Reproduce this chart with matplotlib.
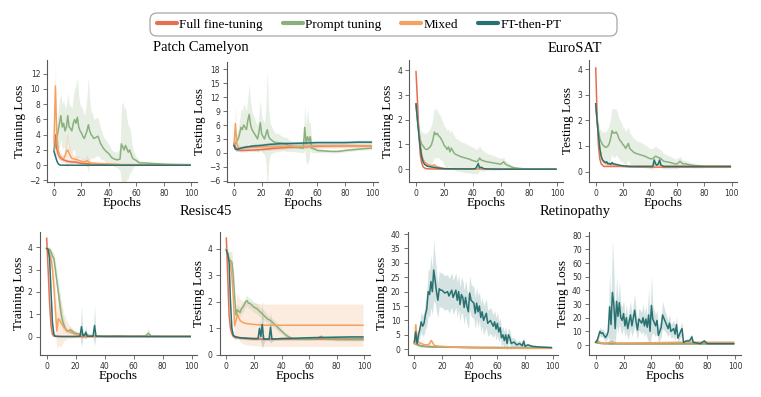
import numpy as np
import matplotlib
matplotlib.use("Agg")
import matplotlib.pyplot as plt
from matplotlib.patches import FancyBboxPatch
from matplotlib.lines import Line2D

C_FT, C_PT, C_MX, C_FP = "#E76F51", "#8AB17D", "#F4A261", "#287271"
methods = ["Full fine-tuning", "Prompt tuning", "Mixed", "FT-then-PT"]
colors = [C_FT, C_PT, C_MX, C_FP]
titles = ["Patch Camelyon", "EuroSAT", "Resisc45", "Retinopathy"]

# ---------------- Patch Camelyon, training ----------------
pc_tr_ft_x = [0,1,2,3,4,5,7,10,13,16,20,25,30,40,50,60,80,99]
pc_tr_ft_y = [2.0,4.0,2.2,1.5,1.1,0.9,0.7,0.5,0.45,0.4,0.25,0.2,0.15,0.1,0.05,0.03,0.02,0.02]
pc_tr_ft_sd = [0.5,1.5,1.0,0.6,0.4,0.3,0.2,0.2,0.2,0.2,0.1,0.1,0.05,0.05,0.03,0.02,0.01,0.01]
pc_tr_pt_x = [0,1,2,3,4,5,6,7,8,9,10,11,12,13,14,15,16,17,18,19,20,21,22,23,24,25,26,27,28,29,30,
              32,34,36,38,40,42,44,46,48,
              49,50,51,52,53,54,55,56,57,58,
              60,62,65,70,80,90,99]
pc_tr_pt_y = [2.0,2.5,3.5,4.5,5.5,6.5,5.0,5.5,4.5,5.0,6.5,5.0,4.8,4.5,5.5,6.0,5.5,6.3,5.0,4.5,4.2,3.8,3.5,4.0,4.5,5.3,4.5,4.0,3.8,3.5,3.6,
              3.8,2.8,2.2,1.8,1.5,1.0,0.8,0.7,0.8,
              2.8,2.4,2.0,2.6,2.2,1.7,2.0,1.5,1.0,0.8,
              0.6,0.3,0.3,0.25,0.15,0.1,0.08]
pc_tr_pt_sd = [0.8,1.5,2.0,2.5,3.0,3.0,3.0,3.0,3.0,3.0,3.0,3.0,3.0,3.0,3.5,4.0,5.0,5.3,4.0,3.5,3.5,3.5,3.0,3.5,4.5,6.3,4.0,3.0,3.0,2.5,2.5,
               2.5,2.0,1.5,1.5,1.2,1.0,1.0,1.0,1.5,
               5.0,6.0,5.5,5.0,4.0,3.5,3.0,2.5,1.5,1.0,
               0.5,0.3,0.2,0.15,0.1,0.05,0.05]
pc_tr_mx_x = [0,1,2,3,4,5,6,7,8,9,10,11,12,13,15,17,20,22,24,26,30,35,40,50,60,80,99]
pc_tr_mx_y = [3.0,10.4,4.0,2.0,1.3,1.1,0.9,0.9,1.2,1.8,2.0,1.6,1.2,0.9,0.8,0.7,0.5,0.4,0.6,0.3,0.25,0.2,0.15,0.1,0.08,0.05,0.05]
pc_tr_mx_sd = [1.0,2.8,1.5,0.8,0.6,0.5,0.5,0.5,1.0,2.0,2.2,1.5,1.0,0.7,0.5,0.5,0.4,0.4,0.8,0.3,0.2,0.2,0.15,0.1,0.05,0.03,0.03]
pc_tr_fp_x = [0,1,2,3,4,5,10,20,50,99]
pc_tr_fp_y = [1.8,1.2,0.6,0.2,0.05,0.01,0.0,0.0,0.0,0.0]
pc_tr_fp_sd = [0.1,0.1,0.1,0.05,0.02,0.01,0.0,0.0,0.0,0.0]

# ---------------- Patch Camelyon, testing ----------------
pc_te_ft_x = [0,1,2,3,5,8,10,15,20,25,30,35,40,50,60,70,80,90,99]
pc_te_ft_y = [2.0,1.2,0.8,0.6,0.5,0.5,0.55,0.6,0.7,0.85,1.0,1.1,1.2,1.3,1.4,1.45,1.5,1.5,1.5]
pc_te_ft_sd = [0.5,0.4,0.3,0.3,0.3,0.3,0.3,0.3,0.3,0.3,0.3,0.3,0.3,0.3,0.3,0.3,0.3,0.3,0.3]
pc_te_pt_x = [0,1,2,3,4,5,6,7,8,9,10,11,12,13,14,15,16,17,18,19,20,21,22,23,24,25,26,27,28,
              30,32,35,38,40,45,50,
              51,52,53,54,55,56,58,
              60,65,70,75,80,90,99]
pc_te_pt_y = [1.5,2.0,2.5,3.0,4.0,5.5,5.0,6.0,5.5,5.0,7.0,8.3,6.0,5.0,4.5,4.0,3.5,3.0,4.5,6.5,4.0,3.5,3.0,4.0,5.0,3.5,3.0,2.8,2.5,
              2.2,2.2,2.0,1.8,1.5,1.2,1.0,
              5.5,2.0,3.5,2.5,3.5,1.0,0.8,
              0.5,0.4,0.3,0.3,0.5,0.8,1.0]
pc_te_pt_sd = [0.5,1.0,1.5,2.0,3.0,4.0,4.0,4.5,4.5,4.0,5.0,6.5,5.0,4.0,3.5,3.5,3.0,3.0,4.0,5.0,4.0,3.5,3.5,6.0,13.0,6.0,3.5,3.0,2.5,
               2.0,2.0,1.5,1.5,1.2,1.0,1.0,
               5.0,4.0,6.0,4.0,3.0,1.0,0.8,
               0.5,0.4,0.3,0.3,0.3,0.3,0.3]
pc_te_mx_x = [0,1,2,3,4,5,7,10,15,20,30,40,50,60,80,99]
pc_te_mx_y = [1.5,6.3,2.0,1.2,1.0,1.0,1.1,1.2,1.2,1.3,1.3,1.4,1.4,1.5,1.5,1.5]
pc_te_mx_sd = [0.5,4.2,1.5,0.8,0.6,0.5,0.5,0.5,0.5,0.5,0.5,0.5,0.5,0.5,0.5,0.5]
pc_te_fp_x = [0,1,2,3,5,8,10,15,20,25,30,35,40,50,60,70,80,90,99]
pc_te_fp_y = [1.6,0.8,0.7,0.8,1.0,1.2,1.3,1.5,1.6,1.8,1.9,2.0,2.0,2.1,2.2,2.2,2.2,2.3,2.3]
pc_te_fp_sd = [0.4,0.4,0.4,0.4,0.4,0.4,0.4,0.4,0.4,0.4,0.4,0.4,0.4,0.4,0.4,0.4,0.4,0.4,0.4]

# ---------------- EuroSAT, training ----------------
es_tr_ft_x = [0,1,2,3,4,5,6,7,10,20,50,99]
es_tr_ft_y = [3.95,2.8,1.5,0.6,0.25,0.1,0.05,0.02,0.01,0.0,0.0,0.0]
es_tr_ft_sd = [0.2,0.2,0.15,0.1,0.05,0.03,0.02,0.01,0.0,0.0,0.0,0.0]
es_tr_pt_x = [0,1,2,3,4,5,6,7,8,9,10,11,12,13,14,15,16,17,18,19,20,21,22,23,24,25,26,27,28,
              30,32,35,38,40,42,43,44,45,46,48,50,
              55,58,60,61,62,63,65,68,70,75,80,99]
es_tr_pt_y = [2.6,2.1,1.6,1.2,1.0,0.95,0.85,0.8,0.8,0.85,0.9,1.0,1.2,1.5,1.4,1.45,1.35,1.3,1.2,1.1,0.95,0.9,0.8,0.9,0.7,0.85,0.75,0.65,0.6,
              0.55,0.5,0.45,0.4,0.35,0.32,0.3,0.35,0.45,0.38,0.33,0.3,
              0.25,0.22,0.2,0.25,0.3,0.22,0.15,0.08,0.05,0.02,0.01,0.0]
es_tr_pt_sd = [0.1,0.2,0.3,0.4,0.5,0.55,0.6,0.65,0.7,0.7,0.75,0.8,0.9,1.0,1.0,0.95,0.9,0.9,0.85,0.8,0.8,0.8,0.75,0.75,0.75,0.75,0.7,0.7,0.65,
               0.65,0.6,0.6,0.55,0.55,0.5,0.5,0.5,0.5,0.45,0.4,0.35,
               0.3,0.25,0.25,0.2,0.2,0.15,0.12,0.08,0.05,0.03,0.01,0.0]
es_tr_mx_x = [0,1,2,3,4,5,6,8,10,12,13,14,16,18,20,30,50,99]
es_tr_mx_y = [2.6,2.0,1.5,1.0,0.6,0.4,0.3,0.2,0.15,0.15,0.18,0.12,0.08,0.05,0.02,0.01,0.0,0.0]
es_tr_mx_sd = [0.1,0.1,0.1,0.1,0.08,0.06,0.05,0.05,0.05,0.05,0.06,0.05,0.03,0.02,0.01,0.0,0.0,0.0]
es_tr_fp_x = [0,1,2,3,4,5,6,8,10,15,20,30,40,42,43,44,45,46,48,50,60,99]
es_tr_fp_y = [2.65,2.0,1.4,0.9,0.5,0.3,0.2,0.12,0.1,0.05,0.02,0.01,0.01,0.02,0.1,0.22,0.05,0.08,0.02,0.01,0.0,0.0]
es_tr_fp_sd = [0.05,0.05,0.05,0.05,0.05,0.04,0.03,0.02,0.02,0.01,0.01,0.01,0.01,0.02,0.1,0.15,0.05,0.05,0.02,0.01,0.0,0.0]

# ---------------- EuroSAT, testing ----------------
es_te_ft_x = [0,1,2,3,4,5,6,8,10,15,20,30,50,70,99]
es_te_ft_y = [4.05,2.2,1.0,0.5,0.3,0.25,0.2,0.2,0.2,0.2,0.2,0.18,0.17,0.17,0.17]
es_te_ft_sd = [0.1,0.1,0.08,0.05,0.03,0.02,0.02,0.02,0.02,0.02,0.02,0.02,0.02,0.02,0.02]
es_te_pt_x = [0,1,2,3,4,5,6,7,8,9,10,11,12,13,14,15,16,17,18,19,20,21,22,23,24,25,26,27,28,
              30,33,36,40,42,44,46,48,50,
              55,58,60,61,62,64,66,70,75,80,90,99]
es_te_pt_y = [2.6,2.0,1.6,1.3,1.15,1.05,1.0,0.95,0.95,1.0,1.1,1.3,1.6,1.5,1.5,1.55,1.45,1.3,1.2,1.15,1.05,1.0,0.9,1.0,1.1,0.9,0.85,0.8,0.75,
              0.7,0.65,0.6,0.5,0.5,0.6,0.55,0.5,0.4,
              0.35,0.3,0.3,0.35,0.4,0.3,0.3,0.25,0.22,0.2,0.2,0.2]
es_te_pt_sd = [0.1,0.2,0.3,0.4,0.45,0.5,0.55,0.6,0.65,0.7,0.75,0.8,0.9,0.95,0.95,0.9,0.85,0.8,0.8,0.75,0.7,0.7,0.65,0.65,0.65,0.6,0.6,0.55,0.55,
               0.5,0.5,0.45,0.4,0.4,0.4,0.35,0.35,0.3,
               0.25,0.2,0.2,0.2,0.2,0.15,0.12,0.1,0.08,0.05,0.03,0.03]
es_te_mx_x = [0,1,2,3,4,5,6,8,10,12,15,20,25,30,40,50,70,99]
es_te_mx_y = [2.6,2.0,1.4,0.9,0.6,0.45,0.35,0.3,0.3,0.28,0.25,0.22,0.2,0.2,0.2,0.2,0.2,0.2]
es_te_mx_sd = [0.05,0.05,0.05,0.05,0.05,0.05,0.05,0.05,0.05,0.05,0.05,0.04,0.04,0.04,0.03,0.03,0.03,0.03]
es_te_fp_x = [0,1,2,3,4,5,6,7,8,9,10,11,12,13,
              15,17,20,25,30,35,40,42,43,44,45,46,47,48,50,60,80,99]
es_te_fp_y = [2.65,2.0,1.4,0.9,0.6,0.45,0.4,0.35,0.38,0.3,0.32,0.28,0.35,0.3,
              0.28,0.25,0.22,0.2,0.2,0.2,0.2,0.2,0.45,0.3,0.25,0.3,0.45,0.25,0.2,0.2,0.2,0.2]
es_te_fp_sd = [0.05,0.05,0.05,0.05,0.05,0.05,0.05,0.05,0.05,0.05,0.05,0.05,0.05,0.05,
               0.04,0.04,0.04,0.04,0.04,0.04,0.04,0.05,0.15,0.1,0.05,0.08,0.15,0.05,0.04,0.03,0.03,0.03]

# ---------------- Resisc45, training ----------------
rs_tr_ft_x = [0,1,2,3,4,5,6,10,20,50,99]
rs_tr_ft_y = [4.4,3.0,1.5,0.5,0.1,0.02,0.01,0.0,0.0,0.0,0.0]
rs_tr_ft_sd = [0.1,0.1,0.1,0.05,0.02,0.01,0.0,0.0,0.0,0.0,0.0]
rs_tr_pt_x = [0,1,2,3,4,5,6,7,8,9,10,11,12,13,14,15,16,17,18,
              20,22,25,30,40,50,60,68,69,70,71,72,80,99]
rs_tr_pt_y = [3.95,3.9,3.9,3.8,3.6,3.5,3.0,2.5,2.0,1.5,1.0,0.7,0.5,0.35,0.25,0.25,0.3,0.28,0.22,
              0.15,0.12,0.1,0.05,0.03,0.04,0.02,0.03,0.08,0.15,0.1,0.02,0.01,0.01]
rs_tr_pt_sd = [0.05,0.1,0.1,0.15,0.2,0.25,0.35,0.45,0.5,0.5,0.45,0.35,0.25,0.15,0.1,0.1,0.15,0.12,0.1,
               0.08,0.06,0.05,0.03,0.02,0.02,0.02,0.03,0.1,0.25,0.12,0.02,0.01,0.01]
rs_tr_mx_x = [0,1,2,3,4,5,6,7,8,9,10,11,12,14,16,18,20,25,30,40,60,99]
rs_tr_mx_y = [4.0,3.9,3.8,3.5,3.0,2.2,1.2,0.25,0.8,0.75,0.6,0.5,0.4,0.3,0.2,0.15,0.1,0.05,0.02,0.01,0.01,0.01]
rs_tr_mx_sd = [0.1,0.1,0.2,0.3,0.5,0.8,1.0,0.8,1.2,1.2,1.0,0.8,0.6,0.4,0.3,0.2,0.15,0.1,0.05,0.02,0.01,0.01]
rs_tr_fp_x = [0,1,2,3,4,5,6,10,20,23,24,25,26,27,28,30,32,33,34,40,60,80,99]
rs_tr_fp_y = [3.95,3.9,3.5,2.0,0.6,0.1,0.02,0.01,0.01,0.02,0.45,0.05,0.05,0.2,0.02,0.02,0.02,0.5,0.02,0.01,0.01,0.01,0.01]
rs_tr_fp_sd = [0.05,0.05,0.1,0.2,0.2,0.05,0.01,0.0,0.0,0.02,0.9,0.1,0.1,0.3,0.02,0.02,0.02,0.9,0.02,0.0,0.0,0.0,0.0]

# ---------------- Resisc45, testing ----------------
rs_te_ft_x = [0,1,2,3,4,5,6,8,10,15,20,30,40,50,60,70,80,90,99]
rs_te_ft_y = [4.4,3.0,1.5,1.0,0.8,0.7,0.66,0.65,0.64,0.62,0.6,0.6,0.6,0.6,0.6,0.6,0.6,0.6,0.6]
rs_te_ft_sd = [0.05,0.1,0.1,0.05,0.05,0.05,0.05,0.05,0.05,0.05,0.05,0.05,0.05,0.05,0.05,0.05,0.05,0.05,0.05]
rs_te_pt_x = [0,1,2,3,4,5,6,7,8,9,10,11,12,13,14,15,16,17,18,19,20,
              22,24,26,28,30,32,34,36,38,40,42,44,46,48,50,
              55,60,65,68,69,70,72,75,80,90,99]
rs_te_pt_y = [3.95,3.8,3.6,3.55,3.5,3.0,2.2,1.5,1.7,1.65,1.6,1.75,1.8,1.9,2.0,2.05,1.95,1.95,1.9,1.85,1.8,
              1.75,1.65,1.55,1.45,1.35,1.3,1.2,1.1,1.0,0.9,0.8,0.72,0.66,0.62,0.6,
              0.6,0.6,0.62,0.68,0.7,0.65,0.6,0.6,0.58,0.58,0.58]
rs_te_pt_sd = [0.1,0.2,0.3,0.35,0.4,0.4,0.3,0.2,0.2,0.2,0.2,0.2,0.2,0.2,0.2,0.2,0.2,0.2,0.2,0.2,0.2,
               0.2,0.2,0.2,0.2,0.15,0.15,0.15,0.15,0.15,0.1,0.1,0.08,0.06,0.05,0.05,
               0.05,0.05,0.05,0.06,0.08,0.05,0.05,0.05,0.05,0.05,0.05]
rs_te_mx_x = [0,1,2,3,4,5,6,7,8,9,10,12,15,20,25,30,40,50,60,70,80,90,99]
rs_te_mx_y = [4.0,3.8,3.6,3.4,3.0,2.2,1.1,1.3,1.55,1.4,1.3,1.22,1.18,1.15,1.13,1.12,1.12,1.12,1.12,1.12,1.12,1.12,1.12]
rs_te_mx_sd = [0.1,0.15,0.2,0.3,0.5,0.6,0.6,0.7,0.8,0.8,0.8,0.8,0.8,0.8,0.8,0.8,0.8,0.8,0.8,0.8,0.8,0.8,0.8]
rs_te_fp_x = [0,1,2,3,4,5,6,8,10,15,20,
              23,24,25,26,27,28,30,31,32,33,34,
              40,50,60,70,80,90,99]
rs_te_fp_y = [3.95,3.8,3.5,2.0,1.0,0.75,0.7,0.67,0.65,0.63,0.62,
              0.62,1.0,0.7,1.15,0.6,0.6,0.6,0.6,1.05,0.6,0.6,
              0.62,0.63,0.65,0.66,0.67,0.68,0.68]
rs_te_fp_sd = [0.05,0.05,0.1,0.2,0.1,0.05,0.05,0.05,0.05,0.05,0.05,
               0.05,0.35,0.2,0.9,0.2,0.05,0.05,0.05,0.6,0.1,0.05,
               0.05,0.05,0.05,0.05,0.05,0.05,0.05]

# ---------------- Retinopathy, training ----------------
rt_tr_ft_x = [0,1,2,3,5,10,20,30,50,70,99]
rt_tr_ft_y = [2.0,4.5,2.0,1.5,1.2,1.0,0.8,0.7,0.6,0.55,0.5]
rt_tr_ft_sd = [0.3,1.0,0.5,0.3,0.2,0.15,0.1,0.1,0.1,0.1,0.1]
rt_tr_pt_x = [0,2,5,10,20,50,99]
rt_tr_pt_y = [2.0,1.5,1.0,0.8,0.7,0.6,0.5]
rt_tr_pt_sd = [0.2,0.2,0.15,0.1,0.1,0.1,0.1]
rt_tr_mx_x = [0,1,2,3,4,5,6,8,10,11,12,13,14,15,17,20,30,40,60,80,99]
rt_tr_mx_y = [2.0,8.5,4.0,2.5,2.2,2.0,1.8,1.5,1.6,2.0,3.0,2.5,1.6,1.2,1.1,1.0,0.7,0.5,0.35,0.3,0.3]
rt_tr_mx_sd = [0.3,2.0,1.0,0.5,0.4,0.3,0.3,0.3,0.3,0.5,0.8,0.6,0.4,0.3,0.2,0.2,0.2,0.15,0.1,0.1,0.1]
rt_tr_fp_x = [0,1,2,3,4,5,6,7,8,9,10,11,12,13,14,15,16,17,18,19,20,
              22,24,25,27,28,30,31,32,33,34,35,36,37,38,39,40,41,43,44,45,46,47,48,49,50,
              52,53,55,57,58,59,60,61,62,63,64,65,66,67,68,69,70,
              72,74,76,78,79,80,82,85,90,99]
rt_tr_fp_y = [2.5,6.0,2.0,5.0,7.0,9.5,8.0,9.0,12.0,14.0,20.0,19.0,23.5,20.0,27.5,24.0,20.0,17.0,21.0,20.5,20.5,
              19.5,20.0,18.5,20.5,18.0,20.5,17.0,20.0,15.5,19.0,18.0,14.5,18.0,15.0,13.0,19.5,17.0,16.0,12.5,16.0,13.0,15.0,11.0,13.0,10.0,
              12.5,9.0,10.0,8.0,9.5,7.0,9.0,6.0,7.5,4.0,5.0,3.0,5.0,2.0,5.0,4.0,2.0,
              2.5,1.5,2.0,1.2,2.8,1.0,1.5,1.0,0.8,0.6]
rt_tr_fp_sd = [0.5,1.5,1.0,2.0,3.0,3.5,3.5,4.0,5.0,6.0,8.0,8.0,9.0,8.0,10.5,8.0,7.0,6.0,6.0,6.0,6.0,
               6.0,6.0,6.0,6.0,6.0,6.0,6.0,6.0,6.0,6.0,6.0,6.0,6.0,6.0,6.0,6.0,5.5,5.5,5.5,5.5,5.5,5.0,5.0,5.0,5.0,
               5.0,4.5,4.5,4.0,4.0,4.0,4.0,3.5,3.5,3.0,3.0,3.0,3.0,2.5,2.5,2.5,2.0,
               1.5,1.2,1.2,1.0,1.5,0.8,0.6,0.5,0.4,0.3]

# ---------------- Retinopathy, testing ----------------
rt_te_ft_x = [0,2,5,10,20,50,99]
rt_te_ft_y = [2.0,1.5,1.2,1.0,1.0,1.0,1.0]
rt_te_ft_sd = [0.3,0.2,0.2,0.2,0.2,0.2,0.2]
rt_te_pt_x = [0,2,5,10,20,50,99]
rt_te_pt_y = [2.0,1.3,1.0,0.9,0.8,0.8,0.8]
rt_te_pt_sd = [0.2,0.2,0.1,0.1,0.1,0.1,0.1]
rt_te_mx_x = [0,1,2,3,5,8,10,12,13,15,20,30,40,50,60,70,80,90,99]
rt_te_mx_y = [2.0,4.0,2.5,2.0,1.5,1.5,2.0,2.5,2.0,1.5,1.5,1.6,1.7,1.8,2.0,2.0,2.0,2.0,2.0]
rt_te_mx_sd = [0.5,2.0,0.8,0.5,0.4,0.4,0.5,0.8,0.6,0.5,0.5,0.6,0.8,1.0,1.0,1.0,1.0,1.0,1.0]
rt_te_fp_x = [0,1,
              3,4,5,6,7,8,9,10,11,12,13,14,15,16,17,18,19,20,21,22,23,24,25,26,
              28,29,30,31,
              33,34,35,36,37,38,39,40,41,
              43,44,45,
              47,48,50,
              52,53,54,
              56,57,58,59,
              61,62,63,
              65,67,68,69,70,
              75,78,80,90,99]
rt_te_fp_y = [2.0,3.0,
              10.0,8.5,9.0,7.0,5.5,7.0,10.0,28.0,15.0,38.5,30.0,12.0,32.0,21.0,31.0,20.0,18.0,23.0,14.0,20.0,12.0,17.0,22.0,14.0,
              25.5,17.0,11.0,19.0,
              16.0,20.0,14.0,19.0,13.0,22.0,10.0,29.0,19.0,
              14.0,18.0,7.0,
              13.0,22.0,17.0,
              12.0,16.0,10.0,
              12.0,8.0,15.0,5.0,
              10.0,12.0,2.0,
              3.0,3.0,4.0,6.0,2.0,
              1.0,3.0,1.0,1.0,1.0]
rt_te_fp_sd = [0.5,1.0,
               3.0,3.0,3.0,3.0,3.0,3.0,4.0,25.0,15.0,38.0,25.0,12.0,18.0,12.0,15.0,10.0,10.0,10.0,8.0,10.0,8.0,10.0,10.0,8.0,
               12.0,8.0,7.0,8.0,
               8.0,10.0,8.0,10.0,8.0,20.0,10.0,22.0,10.0,
               8.0,8.0,6.0,
               7.0,10.0,7.0,
               6.0,7.0,5.0,
               6.0,5.0,6.0,3.0,
               4.0,5.0,1.0,
               1.5,1.5,2.0,2.5,1.0,
               0.5,1.0,0.5,0.3,0.3]

# ---------------- figure ----------------
W, H = 761, 397
fig = plt.figure(figsize=(W / 100, H / 100), dpi=100)
SERIF = ["Liberation Serif", "DejaVu Serif"]
SPINE = "0.35"

def add_ax(l, r, t, b):
    return fig.add_axes([l / W, 1 - b / H, (r - l) / W, (b - t) / H])

def draw(ax, series, ylabel, ylim, yticks):
    for (x, y, sd), c in zip(series, colors):
        x = np.asarray(x, float); y = np.asarray(y, float); sd = np.asarray(sd, float)
        ax.fill_between(x, y - sd, y + sd, color=c, alpha=0.2, lw=0)
        ax.plot(x, y, color=c, lw=1.1)
    ax.set_xlim(-4.95, 103.95)
    ax.set_ylim(*ylim)
    ax.set_xticks([0, 20, 40, 60, 80, 100])
    ax.set_yticks(yticks)
    for s in ["top", "right"]:
        ax.spines[s].set_visible(False)
    for s in ["left", "bottom"]:
        ax.spines[s].set_color(SPINE)
        ax.spines[s].set_linewidth(0.8)
    ax.tick_params(labelsize=5.5, length=3, width=0.6, pad=2, colors=SPINE, labelcolor="0.2")
    ax.set_ylabel(ylabel, family=SERIF, fontsize=9.5, labelpad=2)
    ax.set_xlabel("Epochs", family=SERIF, fontsize=9.5, labelpad=-1)

top_t, top_b = 60, 182
bot_t, bot_b = 232, 355

a = add_ax(47.2, 196.9, top_t, top_b)
draw(a, [(pc_tr_ft_x, pc_tr_ft_y, pc_tr_ft_sd), (pc_tr_pt_x, pc_tr_pt_y, pc_tr_pt_sd),
         (pc_tr_mx_x, pc_tr_mx_y, pc_tr_mx_sd), (pc_tr_fp_x, pc_tr_fp_y, pc_tr_fp_sd)],
     "Training Loss", (-2.2, 13.8), [-2, 0, 2, 4, 6, 8, 10, 12])
a = add_ax(227.1, 378.2, 62, top_b)
draw(a, [(pc_te_ft_x, pc_te_ft_y, pc_te_ft_sd), (pc_te_pt_x, pc_te_pt_y, pc_te_pt_sd),
         (pc_te_mx_x, pc_te_mx_y, pc_te_mx_sd), (pc_te_fp_x, pc_te_fp_y, pc_te_fp_sd)],
     "Testing Loss", (-6.3, 19.6), [-6, -3, 0, 3, 6, 9, 12, 15, 18])
a = add_ax(409.0, 562.9, top_t, top_b)
draw(a, [(es_tr_ft_x, es_tr_ft_y, es_tr_ft_sd), (es_tr_pt_x, es_tr_pt_y, es_tr_pt_sd),
         (es_tr_mx_x, es_tr_mx_y, es_tr_mx_sd), (es_tr_fp_x, es_tr_fp_y, es_tr_fp_sd)],
     "Training Loss", (-0.52, 4.42), [0, 1, 2, 3, 4])
a = add_ax(589.0, 737.0, top_t, top_b)
draw(a, [(es_te_ft_x, es_te_ft_y, es_te_ft_sd), (es_te_pt_x, es_te_pt_y, es_te_pt_sd),
         (es_te_mx_x, es_te_mx_y, es_te_mx_sd), (es_te_fp_x, es_te_fp_y, es_te_fp_sd)],
     "Testing Loss", (-0.41, 4.36), [0, 1, 2, 3, 4])

a = add_ax(39.5, 197.4, bot_t, bot_b)
draw(a, [(rs_tr_ft_x, rs_tr_ft_y, rs_tr_ft_sd), (rs_tr_pt_x, rs_tr_pt_y, rs_tr_pt_sd),
         (rs_tr_mx_x, rs_tr_mx_y, rs_tr_mx_sd), (rs_tr_fp_x, rs_tr_fp_y, rs_tr_fp_sd)],
     "Training Loss", (-0.82, 4.68), [0, 1, 2, 3, 4])
a = add_ax(219.5, 369.8, bot_t, bot_b)
draw(a, [(rs_te_ft_x, rs_te_ft_y, rs_te_ft_sd), (rs_te_pt_x, rs_te_pt_y, rs_te_pt_sd),
         (rs_te_mx_x, rs_te_mx_y, rs_te_mx_sd), (rs_te_fp_x, rs_te_fp_y, rs_te_fp_sd)],
     "Testing Loss", (0.0, 4.63), [0, 1, 2, 3, 4])
a = add_ax(407.5, 558.2, bot_t, bot_b)
draw(a, [(rt_tr_ft_x, rt_tr_ft_y, rt_tr_ft_sd), (rt_tr_pt_x, rt_tr_pt_y, rt_tr_pt_sd),
         (rt_tr_mx_x, rt_tr_mx_y, rt_tr_mx_sd), (rt_tr_fp_x, rt_tr_fp_y, rt_tr_fp_sd)],
     "Training Loss", (-2.0, 40.7), [0, 5, 10, 15, 20, 25, 30, 35, 40])
a = add_ax(588.8, 740.5, bot_t, bot_b)
draw(a, [(rt_te_ft_x, rt_te_ft_y, rt_te_ft_sd), (rt_te_pt_x, rt_te_pt_y, rt_te_pt_sd),
         (rt_te_mx_x, rt_te_mx_y, rt_te_mx_sd), (rt_te_fp_x, rt_te_fp_y, rt_te_fp_sd)],
     "Testing Loss", (-7.3, 82.7), [0, 10, 20, 30, 40, 50, 60, 70, 80])

# group titles
for t, (cx, cy) in zip(titles, [(201, 48), (575, 48), (206, 212), (575, 212)]):
    fig.text(cx / W, 1 - cy / H, t, family=SERIF, fontsize=10.5, ha="center", va="center")

# legend
handles = [Line2D([], [], color=c, lw=3, solid_capstyle="round") for c in colors]
fig.legend(handles, methods, loc="center left", bbox_to_anchor=(157 / W, 1 - 24.5 / H),
           ncol=4, frameon=False, prop={"family": SERIF, "size": 9.5},
           handlelength=1.5, handletextpad=0.2, columnspacing=1.5, borderpad=0, borderaxespad=0)
box = FancyBboxPatch((150 / 100, (H - 36) / 100), 467 / 100, 23 / 100,
                     boxstyle="round,pad=0,rounding_size=0.07",
                     transform=fig.dpi_scale_trans, fill=False, edgecolor="0.65", lw=0.9)
fig.patches.append(box)

fig.savefig("out.png", dpi=100)
